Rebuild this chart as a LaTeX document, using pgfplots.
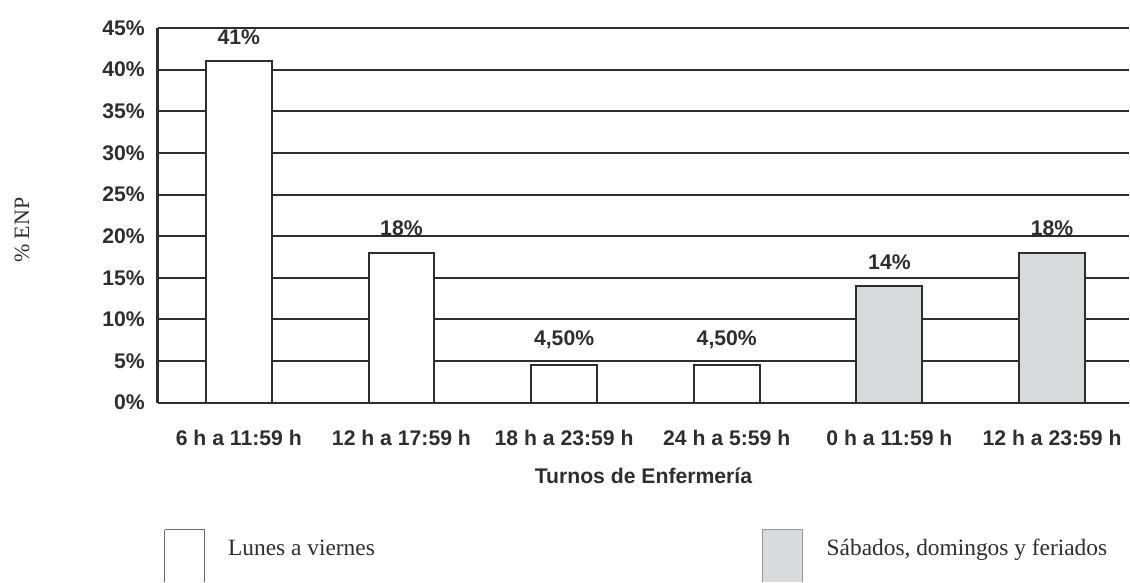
\documentclass[border=0pt]{standalone}
\usepackage{fontspec}
\usepackage{pgfplots}
\pgfplotsset{compat=1.18}
\usepackage{pgfplotstable}
\newfontfamily\arial{Liberation Sans}
\newfontfamily\serifb{Liberation Serif}
\definecolor{ink}{HTML}{2E2E2E}
\definecolor{barfill}{HTML}{D9DADC}
\pgfplotstableread{
x y lab
0 41 41\%
1 18 18\%
2 4.5 4,50\%
3 4.5 4,50\%
}\weekday
\pgfplotstableread{
x y lab
4 14 14\%
5 18 18\%
}\weekend
\begin{document}
\begin{tikzpicture}
\begin{axis}[
  at={(0,0)}, anchor=south west,
  scale only axis, width=486pt, height=187.5pt,
  xmin=-0.4975, xmax=5.473, ymin=0, ymax=45,
  ytick={0,5,...,45},
  yticklabel={\pgfmathprintnumber{\tick}\%},
  /pgf/number format/assume math mode=true,
  xtick={0,1,2,3,4,5},
  xticklabels={6 h a 11:59 h, 12 h a 17:59 h, 18 h a 23:59 h, 24 h a 5:59 h, 0 h a 11:59 h, 12 h a 23:59 h},
  ticklabel style={font=\arial\bfseries\fontsize{10.6}{12}\selectfont, text=ink},
  yticklabel style={xshift=-3pt},
  xticklabel style={yshift=-10pt},
  major tick length=0pt,
  axis x line*=bottom, axis y line*=left,
  x axis line style={draw=ink, line width=1pt, -},
  y axis line style={draw=ink, line width=1.6pt, -},
  ymajorgrids, grid style={draw=ink, line width=1pt},
  xlabel={Turnos de Enfermería},
  xlabel style={at={(axis description cs:0.5,0)}, anchor=center, yshift=-36.5pt, font=\arial\bfseries\fontsize{10.6}{12}\selectfont, text=ink},
  ylabel={\% ENP},
  ylabel style={at={(axis description cs:-0.14,0.46)}, anchor=center, font=\serifb\fontsize{11}{12}\selectfont, text=ink},
  ybar, bar width=0.405, bar shift=0pt,
  nodes near coords,
  point meta=explicit symbolic,
  nodes near coords style={anchor=south, yshift=4.5pt, font=\arial\bfseries\fontsize{10.6}{12}\selectfont, text=ink},
  clip=false,
]
\addplot[draw=ink, line width=1pt, fill=white] table[x=x, y=y, meta=lab] {\weekday};
\addplot[draw=ink, line width=1pt, fill=barfill] table[x=x, y=y, meta=lab] {\weekend};
\end{axis}
% legend
\draw[draw=ink!70, line width=0.5pt] (3.5pt,-63.5pt) -- (3.5pt,-90pt) (3.5pt,-63.5pt) -- (23.5pt,-63.5pt) -- (23.5pt,-90pt);
\node[anchor=base west, inner sep=0pt, text=ink, font=\serifb\fontsize{11.7}{13}\selectfont] at (35pt,-76.5pt) {Lunes a viernes};
\fill[barfill] (302.5pt,-63.5pt) rectangle (322.5pt,-90pt);
\draw[draw=ink!50, line width=0.5pt] (302.5pt,-90pt) -- (302.5pt,-63.5pt) -- (322.5pt,-63.5pt) -- (322.5pt,-90pt);
\node[anchor=base west, inner sep=0pt, text=ink, font=\serifb\fontsize{11.7}{13}\selectfont] at (334.5pt,-76.5pt) {Sábados, domingos y feriados};
\path[use as bounding box] (-79pt,-80.5pt) rectangle (486pt,201.5pt);
\end{tikzpicture}
\end{document}
